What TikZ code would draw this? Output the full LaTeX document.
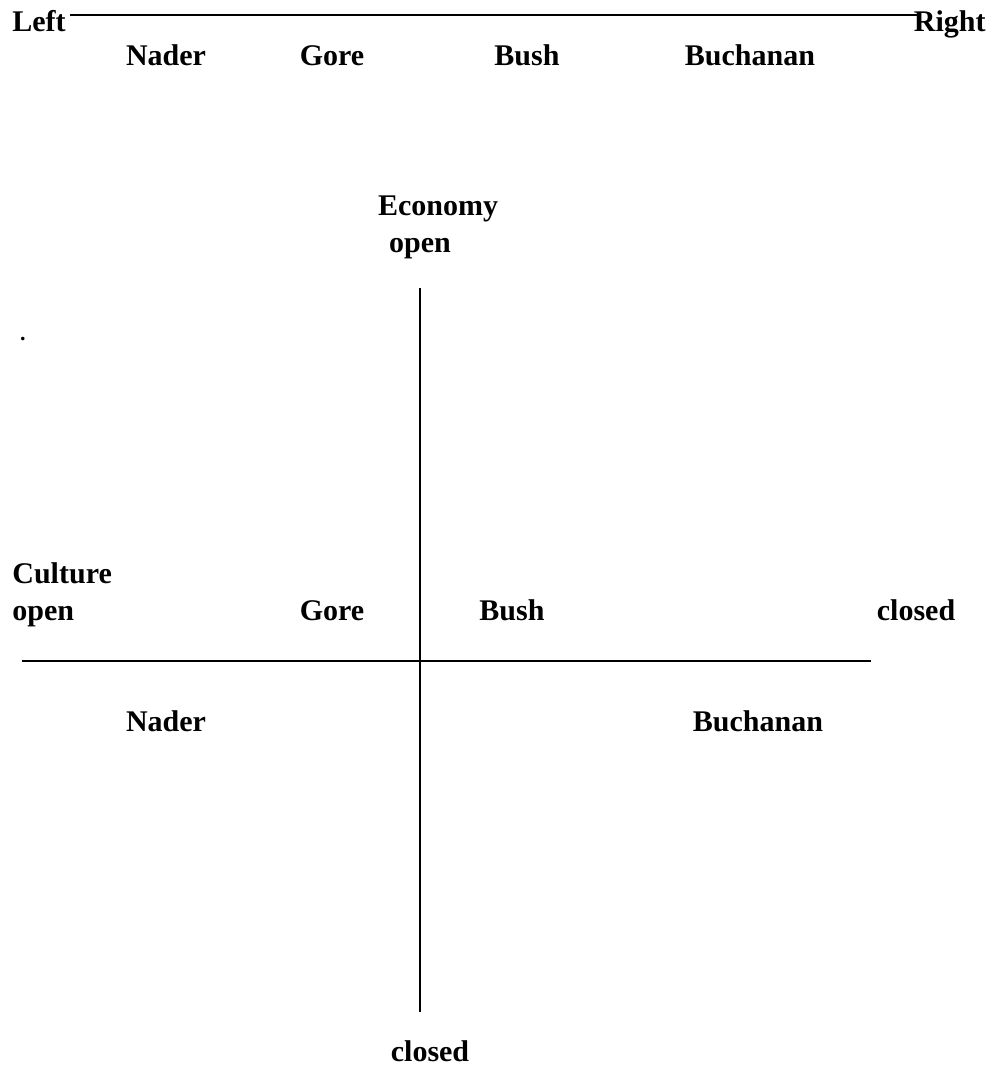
\documentclass[tikz,border=0pt]{standalone}
\usepackage{fontspec}
\setmainfont{Liberation Serif}
\usetikzlibrary{positioning}

\begin{document}
\begin{tikzpicture}[x=0.5pt,y=-0.5pt,
    lab/.style={font=\fontsize{15}{18}\selectfont\bfseries,inner sep=0pt,anchor=base},
    labw/.style={lab,anchor=base west},
    axis/.style={line width=0.9pt}]
            \useasboundingbox (0,0) rectangle (991,1070);
            % left-right scale
            \node[labw] (left) at (12,32) {Left};
            \node[lab,anchor=base east] (right) at (986,32) {Right};
            \draw[axis] (70,15) -- (921,15);
            \node[lab] (nader1) at (166,66) {Nader};
            \node[lab] (gore1) at (332,66) {Gore};
            \node[lab] (bush1) at (527,66) {Bush};
            \node[lab] (buch1) at (750,66) {Buchanan};

            % two dimensions
            \node[lab] (econ) at (438,215) {Economy};
            \node[lab] (econopen) at (420,252) {open};
            \node[labw] (culture) at (12,583) {Culture};
            \node[labw] (cultopen) at (12,620) {open};
            \node[lab] (cultclosed) at (916,620) {closed};
            \node[lab] (econclosed) at (430,1061) {closed};
            \coordinate (top) at (420,288);
            \coordinate (bottom) at (420,1012);
            \coordinate (west) at (22,661);
            \coordinate (east) at (871,661);
            \draw[axis] (top) -- (bottom);
            \draw[axis] (west) -- (east);
            \node[lab] (gore2) at (332,620) {Gore};
            \node[lab] (bush2) at (512,620) {Bush};
            \node[lab] (nader2) at (166,731) {Nader};
            \node[lab] (buch2) at (758,731) {Buchanan};
            \node[lab,font=\fontsize{11}{12}\selectfont\bfseries] (dot) at (23,340) {.};
\end{tikzpicture}
\end{document}
